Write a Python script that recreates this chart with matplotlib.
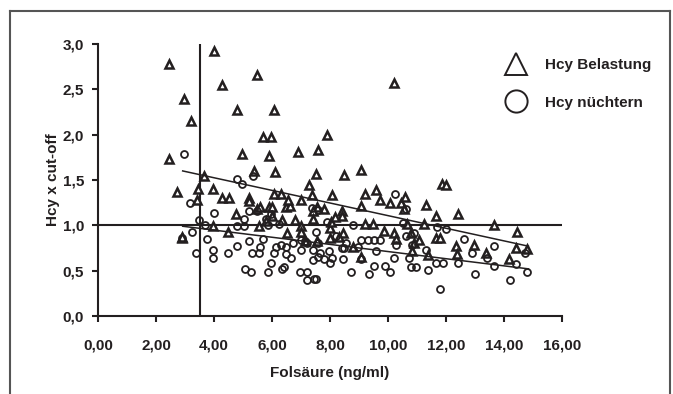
import matplotlib
matplotlib.use("Agg")
import matplotlib.pyplot as plt
from matplotlib.lines import Line2D
import numpy as np

plt.rcParams['font.family'] = ['Liberation Sans', 'DejaVu Sans']
plt.rcParams['font.weight'] = 'bold'

# Hcy Belastung (triangles)
tri_x = [2.44, 2.44, 2.96, 3.19, 2.71, 2.89, 4.0, 4.27, 5.48, 4.79, 6.07, 5.69, 5.97, 4.98, 5.88,
         5.39, 6.10, 6.89, 7.57, 7.91, 7.51, 8.47, 9.08, 10.22, 3.67, 3.44, 3.41, 3.96, 4.28, 4.53,
         5.19, 5.19, 4.77, 5.48, 5.60, 5.88, 5.99, 6.07, 6.30, 6.47, 6.61, 6.56, 7.29, 7.38, 8.06,
         6.99, 9.21, 9.59, 9.73, 10.07, 10.46, 10.58, 10.55, 11.30, 11.85, 12.0, 12.4, 13.67, 14.44,
         11.67, 11.24, 10.67, 9.08, 8.40, 8.43, 7.78, 7.56, 7.41, 7.43, 6.81, 6.34, 6.01, 5.78, 5.56,
         3.98, 4.47, 2.90, 6.50, 7.01, 7.0, 8.0, 8.04, 8.18, 8.44, 8.0, 8.30, 8.79, 9.19, 9.48, 9.87,
         10.19, 10.26, 10.79, 10.89, 10.84, 11.08, 11.37, 11.64, 11.78, 12.34, 12.37, 12.98, 13.38,
         14.18, 14.41, 14.81, 9.06, 7.56, 7.13]
tri_y = [2.78, 1.73, 2.39, 2.15, 1.37, 0.86, 2.92, 2.55, 2.66, 2.27, 2.27, 1.97, 1.97, 1.79, 1.77,
         1.60, 1.59, 1.81, 1.83, 2.0, 1.57, 1.55, 1.61, 2.57, 1.54, 1.40, 1.28, 1.40, 1.30, 1.30,
         1.30, 1.27, 1.13, 1.18, 1.20, 1.20, 1.20, 1.35, 1.35, 1.20, 1.21, 1.28, 1.45, 1.33, 1.34,
         1.28, 1.35, 1.39, 1.28, 1.25, 1.25, 1.31, 1.18, 1.22, 1.46, 1.44, 1.13, 1.0, 0.93,
         1.10, 1.01, 1.01, 1.21, 1.16, 1.10, 1.18, 1.20, 1.16, 1.07, 1.06, 1.06, 1.10, 1.05, 0.99,
         0.99, 0.93, 0.87, 0.92, 0.99, 0.93, 0.97, 1.04, 1.09, 0.92, 0.86, 0.87, 0.76, 1.01, 1.01, 0.94,
         0.91, 0.85, 0.91, 0.80, 0.72, 0.84, 0.67, 0.86, 0.86, 0.77, 0.68, 0.78, 0.70,
         0.63, 0.75, 0.74, 0.65, 0.83, 0.83]

# Hcy nüchtern (circles)
cir_x = [2.96, 3.17, 3.23, 2.89, 3.39, 3.47, 3.70, 3.76, 4.0, 3.97, 3.97, 4.47, 4.79, 4.98, 5.35,
         5.19, 4.79, 5.05, 5.04, 4.81, 5.19, 5.08, 5.27, 5.30, 5.56, 5.59, 5.69, 5.48, 5.81, 5.85,
         5.85, 5.97, 6.07, 6.13, 5.97, 6.24, 6.30, 6.47, 6.49, 6.67, 6.33, 6.43, 6.99, 7.0, 7.13,
         7.21, 6.98, 7.20, 7.19, 7.44, 7.53, 7.39, 7.59, 7.51, 7.59, 7.41, 7.41, 7.57, 7.66, 7.81,
         7.96, 7.99, 8.07, 7.90, 8.19, 8.40, 8.44, 8.56, 8.79, 8.71, 8.98, 9.08, 9.06, 9.30, 9.36,
         9.50, 9.59, 9.51, 9.72, 9.90, 10.07, 10.24, 10.29, 10.20, 10.50, 10.61, 10.61, 10.73, 10.80,
         10.90, 10.98, 11.30, 11.39, 11.69, 12.0, 11.67, 11.89, 11.78, 12.4, 12.62, 12.89, 12.99,
         13.41, 13.67, 13.67, 14.21, 14.41, 14.71, 14.81, 10.84, 8.49, 6.74]
cir_y = [1.79, 1.25, 0.93, 0.86, 0.70, 1.06, 1.00, 0.85, 1.14, 0.73, 0.64, 0.70, 1.51, 1.46, 1.54,
         1.16, 0.99, 0.99, 1.07, 0.77, 0.83, 0.52, 0.49, 0.70, 0.70, 0.76, 0.85, 1.16, 1.07, 1.0,
         0.48, 0.59, 0.70, 0.76, 1.13, 1.02, 0.78, 0.76, 0.68, 0.64, 0.52, 0.54, 0.73, 0.84, 0.83,
         0.81, 0.49, 0.49, 0.40, 0.41, 0.41, 1.19, 1.17, 0.93, 0.81, 0.73, 0.62, 0.65, 0.70, 0.63,
         0.72, 0.59, 0.64, 1.04, 0.88, 0.75, 0.63, 0.80, 1.0, 0.48, 0.76, 0.84, 0.63, 0.84, 0.46,
         0.84, 0.72, 0.55, 0.84, 0.55, 0.49, 1.35, 0.78, 0.64, 1.03, 0.88, 1.18, 0.64, 0.54,
         0.92, 0.54, 0.73, 0.51, 0.98, 0.96, 0.59, 0.59, 0.30, 0.59, 0.85, 0.70, 0.46,
         0.64, 0.77, 0.55, 0.40, 0.57, 0.70, 0.49, 0.78, 0.75, 0.81]

# regression line endpoints
fit_x = [2.92, 14.84]
tri_fit_y = [1.60, 0.77]
cir_fit_y = [0.99, 0.52]

cutoff_y = 1.0
cutoff_x = 3.5

x_ticks = [0, 2, 4, 6, 8, 10, 12, 14, 16]
x_ticklabels = ['0,00', '2,00', '4,00', '6,00', '8,00', '10,00', '12,00', '14,00', '16,00']
y_ticks = [0, 0.5, 1.0, 1.5, 2.0, 2.5, 3.0]
y_ticklabels = ['0,0', '0,5', '1,0', '1,5', '2,0', '2,5', '3,0']

fig = plt.figure(figsize=(6.73, 3.94), dpi=100)
ax = fig.add_axes([98/673, 1-316/394, (562-98)/673, (316-44)/394])

ink = '#231f20'
ax.plot(tri_x, tri_y, linestyle='none', marker='^', markersize=6.2, markerfacecolor='white',
        markeredgecolor=ink, markeredgewidth=1.8, label='Hcy Belastung', zorder=3)
ax.plot(cir_x, cir_y, linestyle='none', marker='o', markersize=5.0, markerfacecolor='none',
        markeredgecolor=ink, markeredgewidth=1.3, label='Hcy nüchtern', zorder=3)
ax.plot(fit_x, tri_fit_y, color=ink, linewidth=1.1, zorder=4)
ax.plot(fit_x, cir_fit_y, color=ink, linewidth=1.1, zorder=4)
ax.plot([0, 16], [cutoff_y, cutoff_y], color=ink, linewidth=1.5, zorder=2)
ax.plot([cutoff_x, cutoff_x], [0, 3.0], color=ink, linewidth=1.5, zorder=2)

ax.set_xlim(0, 16)
ax.set_ylim(0, 3.0)
ax.set_xticks(x_ticks)
ax.set_xticklabels(x_ticklabels)
ax.set_yticks(y_ticks)
ax.set_yticklabels(y_ticklabels)
for s in ['top', 'right']:
    ax.spines[s].set_visible(False)
for s in ['left', 'bottom']:
    ax.spines[s].set_linewidth(1.5)
    ax.spines[s].set_color(ink)
ax.tick_params(axis='both', direction='out', length=4, width=1.5, colors=ink, labelsize=11)
ax.tick_params(axis='x', pad=12)
ax.tick_params(axis='y', pad=6)
for lab in ax.get_xticklabels() + ax.get_yticklabels():
    lab.set_fontweight('bold')
    lab.set_color(ink)

ax.set_xlabel('Folsäure (ng/ml)', fontsize=11, fontweight='bold', color=ink, labelpad=10)
ax.set_ylabel('Hcy x cut-off', fontsize=11, fontweight='bold', color=ink, labelpad=2)

handles = [Line2D([], [], linestyle='none', marker='^', markersize=16, markerfacecolor='white',
                  markeredgecolor=ink, markeredgewidth=1.4),
           Line2D([], [], linestyle='none', marker='o', markersize=16, markerfacecolor='white',
                  markeredgecolor=ink, markeredgewidth=1.4)]
leg = ax.legend(handles, ['Hcy Belastung', 'Hcy nüchtern'], loc='upper left',
                bbox_to_anchor=(505/673, 1-58/394), bbox_transform=fig.transFigure,
                frameon=False, prop={'size': 11, 'weight': 'bold'}, handlelength=1.5,
                handletextpad=1.14, labelspacing=1.56, borderaxespad=0, borderpad=0)
for t in leg.get_texts():
    t.set_color(ink)

# figure border
bc = '#555555'
fig.add_artist(Line2D([10/673, 10/673], [0, 1-11/394], transform=fig.transFigure, color=bc, linewidth=1.5))
fig.add_artist(Line2D([10/673, 670/673], [1-11/394, 1-11/394], transform=fig.transFigure, color=bc, linewidth=1.5))
fig.add_artist(Line2D([670/673, 670/673], [0, 1-11/394], transform=fig.transFigure, color=bc, linewidth=1.5))

fig.savefig('out.png', dpi=100)
